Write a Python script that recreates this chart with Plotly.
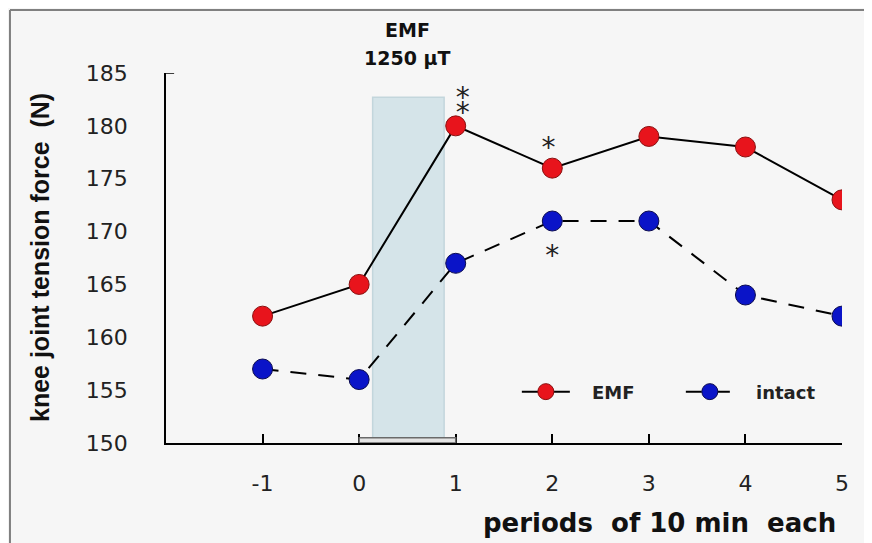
import plotly.graph_objects as go

periods = [-1, 0, 1, 2, 3, 4, 5]
emf = [162, 165, 180, 176, 179, 178, 173]
intact = [157, 156, 167, 171, 171, 164, 162]
y_ticks = [150, 155, 160, 165, 170, 175, 180, 185]
x_ticks = [-1, 0, 1, 2, 3, 4, 5]
x_tick_labels = ["-1", "0", "1", "2", "3", "4", "5"]

# exposure window and significance marks
exposure_x = [0.14, 0.88]
exposure_top = 182.7
star_x = [1.074, 1.074, 1.96, 2.0]
star_y = [182.4, 181.0, 177.7, 167.5]
star_text = ["*", "*", "*", "*"]

FONT = "DejaVu Sans, Liberation Sans, sans-serif"
TFONT = "Liberation Sans, Arial, sans-serif"
BG = "#f6f6f6"
PAD = "&nbsp;&nbsp;&nbsp;"

fig = go.Figure()

fig.add_trace(go.Scatter(
    x=periods, y=emf, name=PAD + "<b>EMF</b>", mode="lines+markers",
    line=dict(color="black", width=2),
    marker=dict(color="#e8141c", size=20, line=dict(color="#8a1010", width=1)),
))
fig.add_trace(go.Scatter(
    x=periods, y=intact, name=PAD + "<b>intact</b>", mode="lines+markers",
    line=dict(color="black", width=2, dash="16px,12px"),
    marker=dict(color="#0a14c8", size=20, line=dict(color="#0a0a50", width=1)),
))
fig.add_trace(go.Scatter(
    x=star_x, y=star_y, text=star_text, mode="text", showlegend=False,
    textposition="middle center", hoverinfo="skip",
    textfont=dict(family=FONT, size=28, color="#222"),
))

# shaded exposure window
fig.add_shape(type="rect", xref="x", yref="y", x0=exposure_x[0], x1=exposure_x[1],
              y0=150, y1=exposure_top, fillcolor="#d5e4e9",
              line=dict(color="#c3d6dc", width=1.5), layer="below")
# bottom bar
fig.add_shape(type="rect", xref="x", yref="y", x0=0, x1=1, y0=150, y1=150.5,
              fillcolor="#e4e4e4", line=dict(color="#6a6a6a", width=1.5), layer="above")
# y-axis top tick
fig.add_shape(type="line", xref="paper", yref="y", x0=0, x1=0.012, y0=185, y1=185,
              line=dict(color="black", width=1.5))

fig.add_annotation(x=0.5, y=1.0, xref="x", yref="paper", yshift=43, yanchor="middle",
                   text="<b>EMF</b>", showarrow=False,
                   font=dict(family=FONT, size=19, color="#111"))
fig.add_annotation(x=0.5, y=1.0, xref="x", yref="paper", yshift=15, yanchor="middle",
                   text="<b>1250 µT</b>", showarrow=False,
                   font=dict(family=FONT, size=19, color="#111"))

fig.add_annotation(x=1.0, y=0, xref="paper", yref="paper", yshift=-80, xanchor="right",
                   yanchor="middle", xshift=-4, text="<b>periods  of 10 min  each</b>",
                   showarrow=False, font=dict(family=FONT, size=26, color="#111"))
fig.add_annotation(x=0, y=0.5, xref="paper", yref="paper", xshift=-126, xanchor="center",
                   yanchor="middle", textangle=-90,
                   text="<b>knee joint tension force  (N)</b>", showarrow=False,
                   font=dict(family=TFONT, size=25, color="#111"))

# outer frame
fig.add_shape(type="line", xref="paper", yref="paper", x0=-0.2308, x1=1.1, y0=1.1703, y1=1.1703,
              line=dict(color="#808080", width=2))
fig.add_shape(type="line", xref="paper", yref="paper", x0=-0.2308, x1=-0.2308, y0=-0.3, y1=1.1703,
              line=dict(color="#808080", width=2))

fig.update_layout(
    width=872, height=543,
    margin=dict(l=158, r=38, t=65, b=108, autoexpand=False),
    paper_bgcolor=BG, plot_bgcolor=BG,
    font=dict(family=FONT, color="#222"),
    showlegend=True,
    legend=dict(orientation="h", x=0.519, y=0.138, xanchor="left", yanchor="middle",
                bgcolor="rgba(0,0,0,0)", font=dict(family=FONT, size=18, color="#222"),
                itemwidth=48, entrywidth=101),
    xaxis=dict(range=[-2, 5], tickvals=x_ticks, ticktext=x_tick_labels, ticks="inside",
               ticklen=9, tickwidth=1.5,
               tickcolor="black", showline=True, linecolor="black", linewidth=1.5,
               showgrid=False, zeroline=False, ticklabelstandoff=20,
               tickfont=dict(family=FONT, size=22, color="#222")),
    yaxis=dict(range=[150, 185], tickvals=y_ticks, ticks="", showline=True,
               linecolor="black", linewidth=1.5, showgrid=False, zeroline=False,
               ticklabelstandoff=32, tickfont=dict(family=FONT, size=22, color="#222")),
)

fig.write_html("out.html", config={"displayModeBar": False})
